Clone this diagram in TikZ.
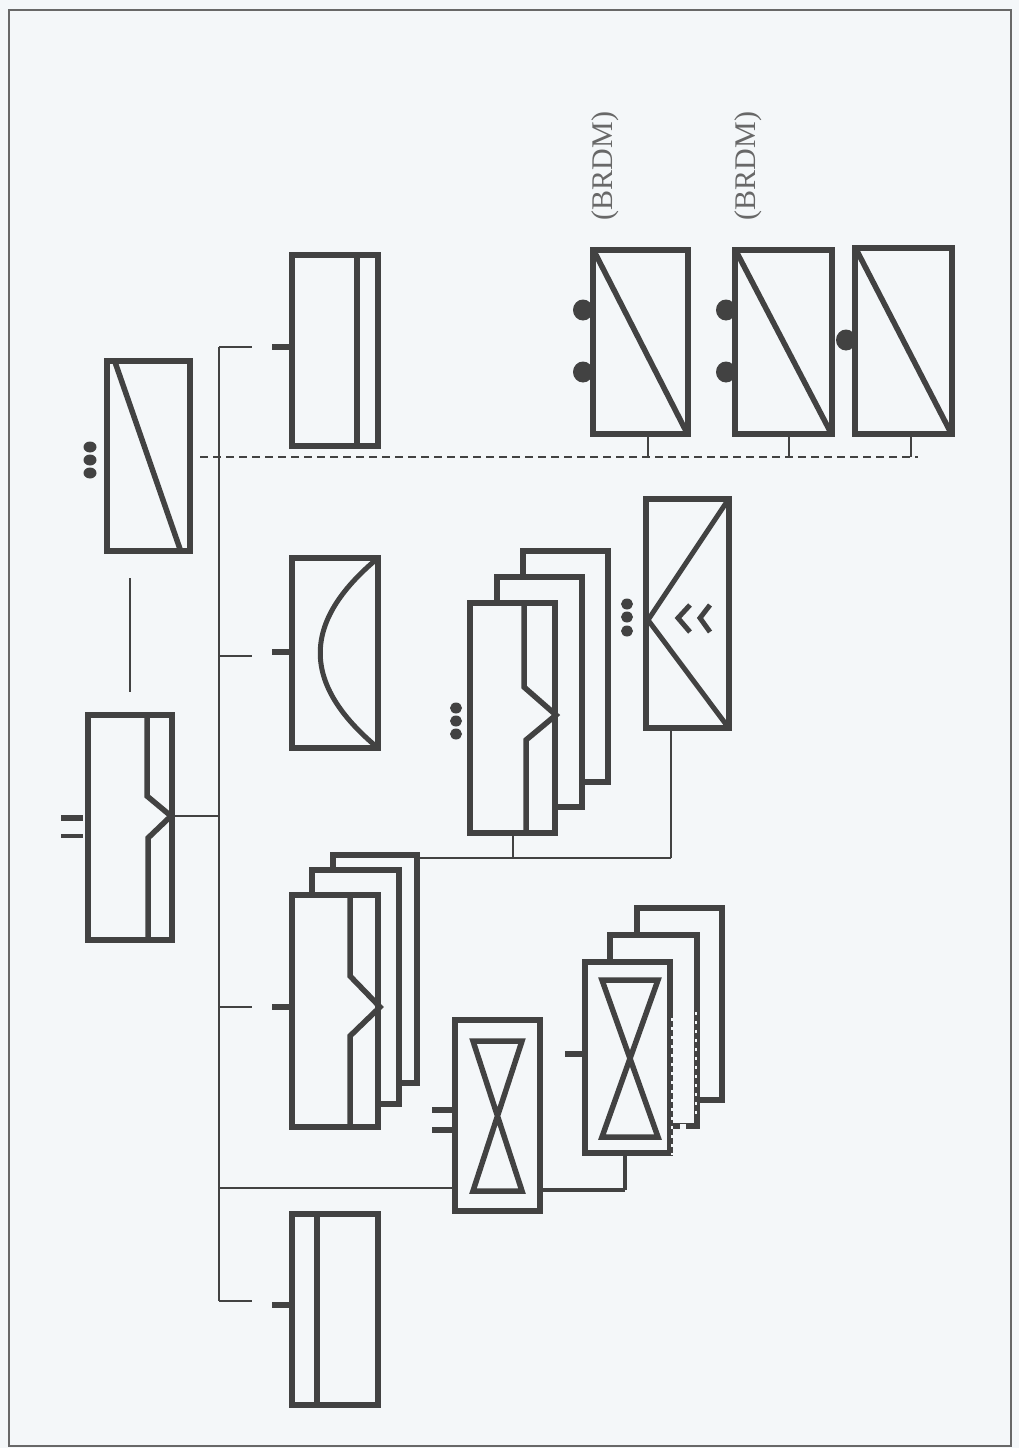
\documentclass[tikz,border=0pt]{standalone}
\usepackage{fontspec}
\setmainfont{Liberation Serif}
\definecolor{paper}{HTML}{F4F7F9}
\definecolor{ink}{HTML}{424242}
\newcommand\bx[5]{\node[boxnode,minimum width={(#4)-(#2)},minimum height={(#5)-(#3)}] (#1) at ({(#2+#4)/2},{(#3+#5)/2}) {};}
\tikzset{
  boxnode/.style={draw=ink,fill=paper,rectangle,inner sep=0pt,line width=5.5pt},
  inner/.style={draw=ink,line width=5.5pt,line join=miter},
  thinline/.style={draw=ink,line width=2pt},
  midline/.style={draw=ink,line width=3pt},
  tick/.style={draw=ink,line width=5.5pt},
  gap/.style={draw=paper,line width=2.5pt,dash pattern=on 3pt off 6pt},
  dot/.style={fill=ink},
  lbl/.style={rotate=90,text=ink!80,inner sep=0pt,font=\fontsize{30}{30}\selectfont}
}
\begin{document}
\begin{tikzpicture}[x=1pt,y=-1pt]
\useasboundingbox (0,0) rectangle (1019,1448);
\fill[paper] (0,0) rectangle (1019,1448);
\node[draw=ink!80,line width=1.5pt,rectangle,inner sep=0pt,minimum width=1002,minimum height=1436] (frame) at (510,728) {};

% --- coordinates of the bus and its branches
\coordinate (bustop) at (219,347);
\coordinate (busbot) at (219,1301);
\coordinate (bustip) at (219,816);
\coordinate (br1a) at (252,347);\coordinate (br1t) at (219,347);
\coordinate (br2a) at (252,656);\coordinate (br2t) at (219,656);
\coordinate (br3a) at (252,1007);\coordinate (br3t) at (219,1007);
\coordinate (br4a) at (252,1301);\coordinate (br4t) at (219,1301);
\coordinate (br5t) at (219,1188);
\coordinate (t1) at (272,347);
\coordinate (t2) at (272,652);
\coordinate (t3) at (272,1007);
\coordinate (t4) at (272,1305);
\coordinate (dashA) at (200,457);
\coordinate (dashB) at (918,457);
\coordinate (linkA) at (130,578);
\coordinate (linkB) at (130,692);

% --- top row
\bx{a}{107}{361}{190}{551}
\draw[inner] (115,362) -- (180,549);
\foreach \yy in {447,460,473} \fill[dot] (90,\yy) ellipse [x radius=6.5,y radius=5.5];
\draw[midline,line width=2.5pt] (linkA) -- (linkB);

\bx{b}{88}{715}{172}{940}
\draw[inner] (147,715) -- (147,796) -- (171,816) -- (148,838) -- (148,940);
\coordinate (btip) at (171,816);
\draw[tick] (61,818) -- (83,818);
\draw[tick,line width=4.5pt] (61,836) -- (83,836);

% --- bus
\draw[midline,line width=2.5pt] (bustop) -- (busbot);
\draw[thinline] (btip) -- (bustip);
\draw[thinline] (br1t) -- (br1a);
\draw[thinline] (br2t) -- (br2a);
\draw[thinline] (br3t) -- (br3a);
\draw[thinline] (br4t) -- (br4a);

% --- second column
\bx{c}{292}{255}{378}{446}
\draw[inner] (357,255) -- (357,446);
\draw[tick] (t1) -- (t1 -| c.west);

\bx{d}{292}{558}{378}{748}
\draw[inner,line width=5pt] (378,558) .. controls (301,622) and (301,684) .. (378,748);
\draw[tick] (t2) -- (t2 -| d.west);

\bx{e3}{333}{855}{417}{1083}
\bx{e2}{312}{870}{399}{1104}
\bx{e1}{292}{895}{378}{1127}
\draw[inner] (350,895) -- (350,976) -- (380,1007) -- (350,1036) -- (350,1127);
\draw[tick] (t3) -- (t3 -| e1.west);

\bx{f}{292}{1214}{378}{1405}
\draw[inner] (317,1214) -- (317,1405);
\draw[tick] (t4) -- (t4 -| f.west);

% --- lower bow-tie group
\coordinate (hjoint) at (625,1190);
\draw[thinline] (br5t) -- (455,1188);
\draw[midline,line width=3.5pt] (455,1190) -- (hjoint);
\bx{g}{455}{1020}{540}{1211}
\draw[inner,line join=miter] (473,1041) -- (522,1041) -- (473,1191) -- (522,1191) -- cycle;
\draw[tick] (432,1110) -- (455,1110);
\draw[tick] (432,1130) -- (455,1130);

\bx{h3}{637}{908}{722}{1100}
\bx{h2}{610}{935}{697}{1126}
\bx{h1}{585}{962}{670}{1153}
\draw[inner] (602,980) -- (658,980) -- (602,1137) -- (658,1137) -- cycle;
\draw[tick] (565,1054) -- (585,1054);
\draw[midline,line width=3.5pt] (h1.south -| hjoint) -- (hjoint);
\draw[gap] (672,1018) -- (672,1155);
\draw[gap] (696,1012) -- (696,1118);
\draw[draw=paper,line width=6pt] (680,1127) -- (686,1127);

% --- centre stack
\bx{i3}{523}{551}{608}{782}
\bx{i2}{497}{577}{582}{807}
\bx{i1}{470}{603}{555}{833}
\draw[inner] (524,603) -- (524,687) -- (556,715) -- (526,740) -- (526,833);
\foreach \yy in {708,721,734} \fill[dot] (456,\yy) ellipse [x radius=6,y radius=5.5];
\coordinate (rail1) at (417,858);
\coordinate (rail2) at (513,858);
\coordinate (rail3) at (671,858);
\draw[thinline] (rail1) -- (rail3);
\draw[thinline] (i1.south -| rail2) -- (rail2);

\bx{j}{646}{499}{729}{728}
\draw[inner,line width=5pt] (728,500) -- (648,620) -- (728,727);
\draw[inner,line width=5pt] (690,605) -- (678,618) -- (690,632);
\draw[inner,line width=5pt] (710,605) -- (700,618) -- (710,632);
\foreach \yy in {604,617,631} \fill[dot] (627,\yy) ellipse [x radius=6,y radius=5.5];
\draw[thinline] (j.south -| rail3) -- (rail3);

% --- BRDM column
\coordinate (s1) at (648,457);
\coordinate (s2) at (789,457);
\coordinate (s3) at (911,457);
\draw[thinline,dash pattern=on 8pt off 5pt] (dashA) -- (dashB);

\foreach \yy in {310,372} \fill[dot] (583,\yy) ellipse [x radius=10,y radius=10.5];
\foreach \yy in {310,372} \fill[dot] (726,\yy) ellipse [x radius=10,y radius=10.5];
\fill[dot] (846,340) ellipse [x radius=10,y radius=10.5];

\bx{k}{593}{250}{688}{434}
\draw[inner] (594,251) -- (687,433);
\bx{l}{735}{250}{832}{434}
\draw[inner] (736,251) -- (831,433);
\bx{m}{855}{248}{952}{434}
\draw[inner] (856,249) -- (951,433);
\draw[thinline] (k.south -| s1) -- (s1);
\draw[thinline] (l.south -| s2) -- (s2);
\draw[thinline] (m.south -| s3) -- (s3);

\node[lbl] (t1lbl) at (605,166) {(BRDM)};
\node[lbl] (t2lbl) at (748,166) {(BRDM)};
\end{tikzpicture}
\end{document}
